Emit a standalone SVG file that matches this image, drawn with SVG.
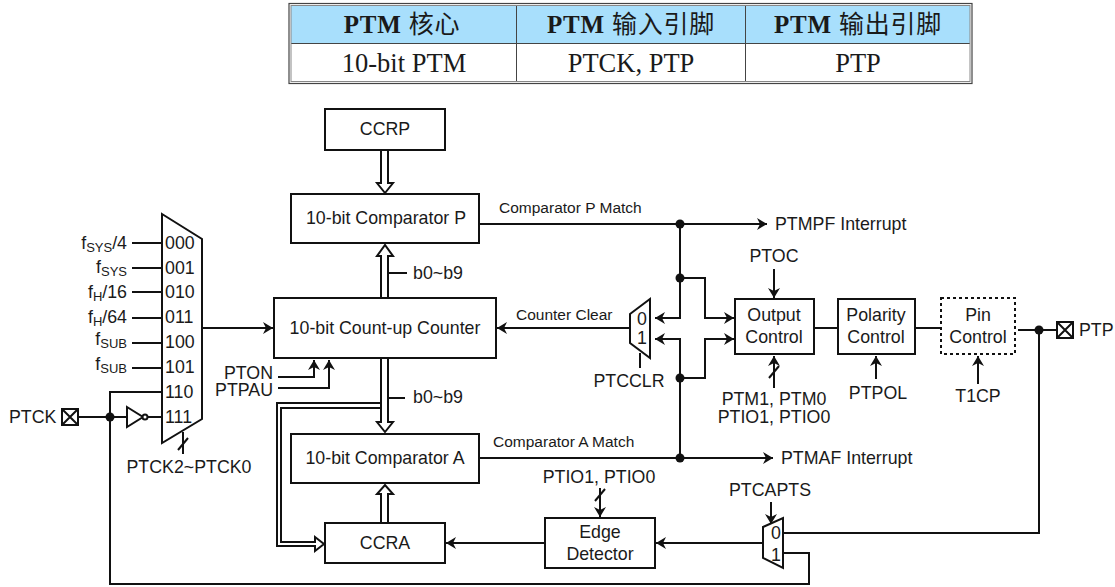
<svg xmlns="http://www.w3.org/2000/svg" width="1115" height="587" viewBox="0 0 1115 587">
<style>
text{font-family:"Liberation Sans",Arial,sans-serif;font-size:17.800px;fill:#1a1a1a}
.m{text-anchor:middle}.e{text-anchor:end}.s{font-size:15.500px}.sub{font-size:13px}
.th{font-family:"Liberation Serif","Noto Sans CJK SC",serif;font-size:25px;font-weight:bold;text-anchor:middle;letter-spacing:.8px}
.cjk{font-weight:normal}
.td{font-family:"Liberation Serif","Noto Sans CJK SC",serif;font-size:26.500px;text-anchor:middle}
.b{fill:#fff;stroke:#111;stroke-width:2}
.l{fill:none;stroke:#111;stroke-width:2}
.a{marker-end:url(#arr)}
.d{fill:#111}
.h{fill:#fff;stroke:#111;stroke-width:2;stroke-linejoin:miter}
</style>
<defs>
<marker id="arr" markerUnits="userSpaceOnUse" markerWidth="12" markerHeight="12" refX="10" refY="6" orient="auto"><path d="M0 0L10 6L0 12L3 6Z" fill="#111"/></marker>
</defs>
<g id="table">
<rect x="289" y="3.500" width="683" height="80" fill="#fff" stroke="#444" stroke-width="1.200"/>
<rect x="291" y="6" width="679" height="37" fill="#a8dffc"/>
<path d="M291 43.500H970M516.500 5V81M745.500 5V81" stroke="#444" fill="none"/>
<rect x="291" y="5.500" width="679" height="76" fill="none" stroke="#888"/>
<text class="th" x="402" y="33">PTM <tspan class="cjk">核心</tspan></text>
<text class="th" x="631" y="33">PTM <tspan class="cjk">输入引脚</tspan></text>
<text class="th" x="858" y="33">PTM <tspan class="cjk">输出引脚</tspan></text>
<text class="td" x="404" y="72">10-bit PTM</text>
<text class="td" x="631" y="72">PTCK, PTP</text>
<text class="td" x="858" y="72">PTP</text>
</g>
<g id="connectors">
<path class="l" d="M132 243H162M132 268H162M132 292H162M132 318H162M132 343H162M132 368H162"/>
<path class="l" d="M78 417H127M148 417H162M110 584V392H162M110 417V584H809V553H783"/>
<path class="l a" d="M202 328H273"/>
<path class="l" d="M183 432V454M178 450L188 438"/>
<path class="l a" d="M278 377H314V360"/>
<path class="l a" d="M278 388H329V360"/>
<path class="l" d="M387 273H407M388 398H405"/>
<path class="l a" d="M479 224H767"/>
<path class="l a" d="M479 458H773"/>
<path class="l a" d="M680 224V318H655"/>
<path class="l a" d="M680 458V339H655"/>
<path class="l a" d="M680 278H705V318H734"/>
<path class="l a" d="M680 378H705V339H734"/>
<path class="l a" d="M630 328H497"/>
<path class="l" d="M640 353V368"/>
<path class="l a" d="M774 269V298"/>
<path class="l a" d="M774 388V356"/>
<path class="l" d="M769 378L779 366"/>
<path class="l" d="M814 328H838M915 328H941M1018 330H1057M783 533H1039V330"/>
<path class="l a" d="M876 379V356"/>
<path class="l a" d="M978 384V356"/>
<path class="l a" d="M600 488V517"/>
<path class="l" d="M595 501L605 489"/>
<path class="l a" d="M771 502V524"/>
<path class="l a" d="M763 543H656"/>
<path class="l a" d="M545 543H446"/>
<circle class="d" cx="110" cy="417" r="4.500"/>
<circle class="d" cx="680" cy="224" r="4.500"/>
<circle class="d" cx="680" cy="278" r="4.500"/>
<circle class="d" cx="680" cy="378" r="4.500"/>
<circle class="d" cx="680" cy="458" r="4.500"/>
<circle class="d" cx="1039" cy="330" r="4.500"/>
<path class="h" d="M381 150V183H377L385 193L393 183H388V150"/>
<path class="h" d="M381 298V256H377L385 245L393 256H388V298"/>
<path class="h" d="M381 358V422H377L385 432L393 422H388V358"/>
<path class="h" d="M381 523V494H377L385 485L393 494H388V523"/>
<path class="l" d="M381 403H277V546H315V551L324 544L315 537V542H281V408H381"/>
</g>
<g id="ptck-pin"><rect class="b" x="62" y="409" width="16" height="16"/><path class="l" d="M62 409L78 425M78 409L62 425"/><text x="9" y="423">PTCK</text></g>
<g id="inverter"><path class="b" d="M127 407L143 417L127 427Z"/><circle class="b" cx="145" cy="417" r="2.500"/></g>
<g id="clock-mux">
<path class="b" d="M162 214L202 239V419L162 443Z"/>
<text x="165" y="249">000</text><text x="165" y="274">001</text><text x="165" y="298">010</text><text x="165" y="323">011</text><text x="165" y="348">100</text><text x="165" y="373">101</text><text x="165" y="398">110</text><text x="165" y="423">111</text>
<text class="e" x="127" y="249">f<tspan class="sub" dy="3">SYS</tspan><tspan dy="-3">/4</tspan></text>
<text class="e" x="127" y="273">f<tspan class="sub" dy="3">SYS</tspan></text>
<text class="e" x="127" y="298">f<tspan class="sub" dy="3">H</tspan><tspan dy="-3">/16</tspan></text>
<text class="e" x="127" y="323">f<tspan class="sub" dy="3">H</tspan><tspan dy="-3">/64</tspan></text>
<text class="e" x="127" y="345">f<tspan class="sub" dy="3">SUB</tspan></text>
<text class="e" x="127" y="370">f<tspan class="sub" dy="3">SUB</tspan></text>
<text class="m" x="189" y="473">PTCK2~PTCK0</text>
</g>
<g id="ccrp"><rect class="b" x="325" y="109" width="120" height="41"/><text class="m" x="385" y="135">CCRP</text></g>
<g id="comparator-p"><rect class="b" x="291" y="194" width="188" height="49"/><text class="m" x="386" y="224">10-bit Comparator P</text></g>
<g id="counter"><rect class="b" x="274" y="298" width="222" height="60"/><text class="m" x="385" y="334">10-bit Count-up Counter</text></g>
<g id="comparator-a"><rect class="b" x="291" y="434" width="188" height="49"/><text class="m" x="385" y="464">10-bit Comparator A</text></g>
<g id="ccra"><rect class="b" x="325" y="523" width="120" height="40"/><text class="m" x="385" y="549">CCRA</text></g>
<g id="edge-detector"><rect class="b" x="545" y="518" width="110" height="50"/><text class="m" x="600" y="538">Edge</text><text class="m" x="600" y="560">Detector</text></g>
<g id="output-control"><rect class="b" x="735" y="299" width="79" height="55"/><text class="m" x="774" y="321">Output</text><text class="m" x="774" y="343">Control</text></g>
<g id="polarity-control"><rect class="b" x="838" y="299" width="77" height="55"/><text class="m" x="876" y="321">Polarity</text><text class="m" x="876" y="343">Control</text></g>
<g id="pin-control"><rect class="l" x="941" y="298" width="74" height="56" stroke-dasharray="3 3"/><text class="m" x="978" y="321">Pin</text><text class="m" x="978" y="343">Control</text></g>
<g id="counter-clear-mux"><path class="b" d="M630 314L650 299V358L630 343Z"/><text class="m" x="642" y="325">0</text><text class="m" x="642" y="344">1</text></g>
<g id="capture-mux"><path class="b" d="M763 527L783 518V568L763 558Z"/><text class="m" x="776" y="539">0</text><text class="m" x="776" y="561">1</text></g>
<g id="ptp-pin"><rect class="b" x="1057" y="322" width="16" height="16"/><path class="l" d="M1057 322L1073 338M1073 322L1057 338"/><text x="1079" y="336">PTP</text></g>
<g id="labels">
<text class="e" x="273" y="379">PTON</text><text class="e" x="273" y="396">PTPAU</text>
<text x="413" y="279">b0~b9</text><text x="413" y="403">b0~b9</text>
<text class="s" x="499" y="213">Comparator P Match</text>
<text class="s" x="493" y="447">Comparator A Match</text>
<text class="s" x="516" y="320">Counter Clear</text>
<text x="775" y="230">PTMPF Interrupt</text>
<text x="781" y="464">PTMAF Interrupt</text>
<text class="m" x="774" y="262">PTOC</text>
<text class="m" x="629" y="387">PTCCLR</text>
<text class="m" x="774" y="405">PTM1, PTM0</text>
<text class="m" x="774" y="423">PTIO1, PTIO0</text>
<text class="m" x="878" y="399">PTPOL</text>
<text class="m" x="978" y="402">T1CP</text>
<text class="m" x="599" y="483">PTIO1, PTIO0</text>
<text class="m" x="770" y="496">PTCAPTS</text>
</g>
</svg>
